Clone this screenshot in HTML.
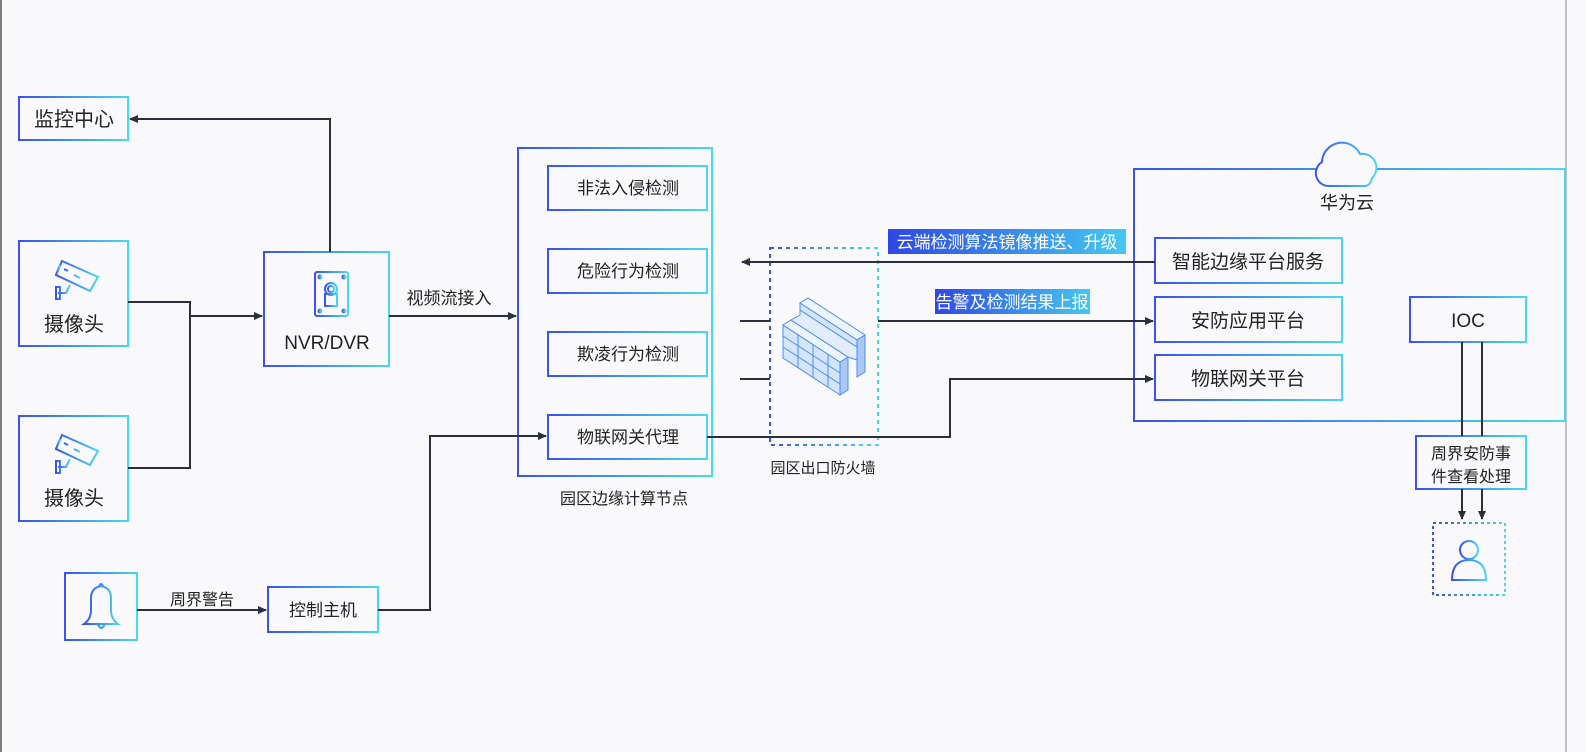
<!DOCTYPE html>
<html><head><meta charset="utf-8"><style>
html,body{margin:0;padding:0;background:#f9f9fb;}
svg{display:block;font-family:"Liberation Sans","Noto Sans CJK SC",sans-serif;}
</style></head><body>
<svg width="1586" height="752" viewBox="0 0 1586 752" xmlns="http://www.w3.org/2000/svg">
<defs>
<linearGradient id="g" x1="0" y1="0" x2="1" y2="0"><stop offset="0" stop-color="#3a52ee"/><stop offset="1" stop-color="#4ad8f0"/></linearGradient>
<linearGradient id="gl" x1="0" y1="0" x2="1" y2="0"><stop offset="0" stop-color="#2f47e6"/><stop offset="1" stop-color="#45c8ee"/></linearGradient>
<marker id="a" markerWidth="10" markerHeight="10" refX="8" refY="5" orient="auto" markerUnits="userSpaceOnUse"><path d="M0,1 L9,5 L0,9 z" fill="#2b2f3a"/></marker>
</defs>
<rect x="0" y="0" width="1586" height="752" fill="#f9f9fb"/>
<line x1="1" y1="0" x2="1" y2="752" stroke="#555" stroke-width="1.5"/>
<line x1="1566" y1="0" x2="1566" y2="752" stroke="#888" stroke-width="1"/>

<g fill="none" stroke="url(#g)" stroke-width="2">
<rect x="19" y="97" width="109" height="43"/>
<rect x="19" y="241" width="109" height="105"/>
<rect x="19" y="416" width="109" height="105"/>
<rect x="264" y="252" width="125" height="114"/>
<rect x="518" y="148" width="194" height="328"/>
<rect x="548" y="166" width="159" height="44"/>
<rect x="548" y="249" width="159" height="44"/>
<rect x="548" y="332" width="159" height="44"/>
<rect x="548" y="415" width="159" height="44"/>
<rect x="1134" y="169" width="431" height="252"/>
<rect x="1155" y="238" width="187" height="45"/>
<rect x="1155" y="297" width="187" height="45"/>
<rect x="1155" y="355" width="187" height="45"/>
<rect x="1410" y="297" width="116" height="45"/>
<rect x="1416" y="436" width="110" height="53"/>
<rect x="65" y="573" width="72" height="67"/>
<rect x="268" y="587" width="110" height="45"/>
</g>
<rect x="770" y="248" width="108" height="197" fill="none" stroke="url(#g)" stroke-width="2" stroke-dasharray="4,4"/>
<rect x="1433" y="523" width="72" height="72" fill="none" stroke="url(#g)" stroke-width="2" stroke-dasharray="3,3"/>

<g fill="none" stroke="#2b2f3a" stroke-width="2">
<path d="M128 302 H190 V468 H128"/>
<path d="M190 316 H262" marker-end="url(#a)"/>
<path d="M330 252 V119 H130" marker-end="url(#a)"/>
<path d="M389 316 H516" marker-end="url(#a)"/>
<path d="M1155 262 H742" marker-end="url(#a)"/>
<path d="M740 321 H770 M740 379 H770"/>
<path d="M878 321 H1153" marker-end="url(#a)"/>
<path d="M707 437 H950 V379 H1153" marker-end="url(#a)"/>
<path d="M1462 342 V436 M1482 342 V436"/>
<path d="M1482 489 V519" marker-end="url(#a)"/>
<path d="M1462 489 V519" marker-end="url(#a)"/>
<path d="M137 610 H266" marker-end="url(#a)"/>
<path d="M378 610 H430 V436 H546" marker-end="url(#a)"/>
</g>

<path d="M1330 186 a13 13 0 0 1 -8 -24 a20 20 0 0 1 38 -8 a14 14 0 0 1 12 24 a10 10 0 0 1 -6 8 z" fill="#f9f9fb" stroke="url(#g)" stroke-width="2"/>

<g fill="#222" font-size="20" text-anchor="middle">
<text x="74" y="126">监控中心</text>
<text x="74" y="331">摄像头</text>
<text x="74" y="505">摄像头</text>
<text x="327" y="349" font-size="19">NVR/DVR</text>
<text x="628" y="194" font-size="17">非法入侵检测</text>
<text x="628" y="277" font-size="17">危险行为检测</text>
<text x="628" y="360" font-size="17">欺凌行为检测</text>
<text x="628" y="443" font-size="17">物联网关代理</text>
<text x="624" y="504" font-size="16">园区边缘计算节点</text>
<text x="823" y="473" font-size="15">园区出口防火墙</text>
<text x="1347" y="209" font-size="18">华为云</text>
<text x="1248" y="268" font-size="19">智能边缘平台服务</text>
<text x="1248" y="327" font-size="19">安防应用平台</text>
<text x="1248" y="385" font-size="19">物联网关平台</text>
<text x="1468" y="327" font-size="19">IOC</text>
<text x="1471" y="459" font-size="16">周界安防事</text>
<text x="1471" y="482" font-size="16">件查看处理</text>
<text x="449" y="304" font-size="17">视频流接入</text>
<text x="202" y="605" font-size="16">周界警告</text>
<text x="323" y="616" font-size="17">控制主机</text>
</g>
<rect x="888" y="229" width="238" height="25" fill="url(#gl)"/>
<text x="1007" y="248" font-size="17" fill="#fff" text-anchor="middle">云端检测算法镜像推送、升级</text>
<rect x="935" y="289" width="155" height="25" fill="url(#gl)"/>
<text x="1012" y="308" font-size="17" fill="#fff" text-anchor="middle">告警及检测结果上报</text>

<g fill="none" stroke="url(#g)" stroke-width="2">
<g transform="translate(52,259)"><path d="M10 2 L46 18 L38 32 L4 16 Z"/><path d="M8 6 L4 16"/><path d="M18 26 L14 34 L6 34 M4 28 V40 H8 V28 Z"/><path d="M12 10 l4 2 M22 16 l6 3"/></g>
<g transform="translate(52,433)"><path d="M10 2 L46 18 L38 32 L4 16 Z"/><path d="M8 6 L4 16"/><path d="M18 26 L14 34 L6 34 M4 28 V40 H8 V28 Z"/><path d="M12 10 l4 2 M22 16 l6 3"/></g>
<rect x="315" y="272" width="33" height="44" rx="2"/><circle cx="331" cy="289" r="6"/><circle cx="331" cy="289" r="3"/><rect x="325" y="294" width="12" height="12"/>
<circle cx="320" cy="277" r="1.5"/><circle cx="344" cy="277" r="1.5"/><circle cx="320" cy="311" r="1.5"/><circle cx="344" cy="311" r="1.5"/>
<path d="M84 624 q7 -5 7 -14 v-12 q0 -10 10 -12 q10 2 10 12 v12 q0 9 7 14 z M98 624 q3 8 7 0 M99 586 q2 -4 4 0"/>
<circle cx="1469" cy="550" r="9"/><path d="M1452 580 q0 -20 17 -20 q17 0 17 20 z"/><path d="M1469 562 v9"/>
</g>
<g stroke="#4a8ef0" stroke-width="1">
<path d="M783 325 L840 362 L840 395 L783 358 Z" fill="#d4e4fb"/>
<path d="M840 362 L848 357 L848 390 L840 395 Z" fill="#a9c8f4"/>
<path d="M783 325 L791 320 L848 357 L840 362 Z" fill="#eef4fe"/>
<path d="M800 310 L857 347 L857 360 L848 357 L791 320 L800 315 Z" fill="#e2ecfd"/>
<path d="M800 303 L808 298 L865 335 L857 340 Z" fill="#eef4fe"/>
<path d="M857 340 L865 335 L865 372 L857 377 Z" fill="#a9c8f4"/>
<path d="M800 303 L857 340 L857 347 L800 310 Z" fill="#d4e4fb"/>
<path d="M783 336 L840 373 M783 347 L840 384 M798 335 L798 368 M813 345 L813 378 M828 354 L828 387" fill="none"/>
</g>
</svg>
</body></html>
